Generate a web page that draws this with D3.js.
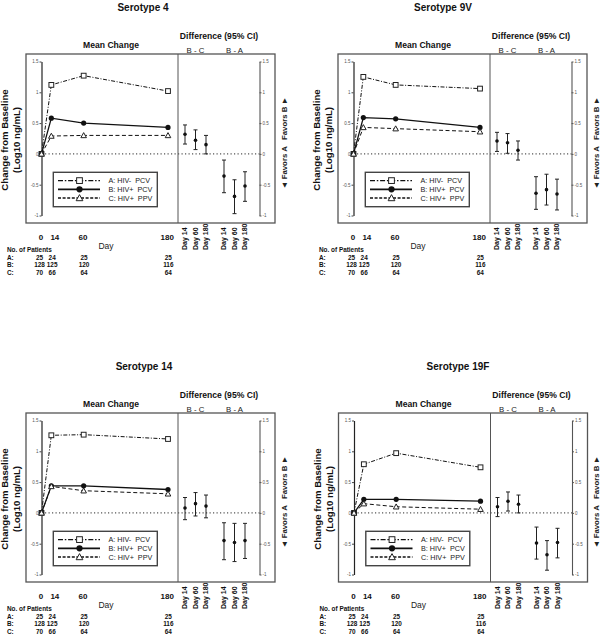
<!DOCTYPE html>
<html>
<head>
<meta charset="utf-8">
<script src="https://cdn.jsdelivr.net/npm/d3@7"></script>
<style>
  body { margin: 0; background: #fff; }
  text { font-family: "Liberation Sans", Arial, sans-serif; }
</style>
</head>
<body>
<script>
// ---------------- DATA ----------------
const days = [0, 14, 60, 180];
const diffDays = ["Day 14", "Day 60", "Day 180"];
const diffGroups = ["B - C", "B - A"];
const serotypes = ["Serotype 4", "Serotype 9V", "Serotype 14", "Serotype 19F"];
const groupLabels = ["A: HIV-  PCV", "B: HIV+  PCV", "C: HIV+  PPV"];
const yTicks = [-1, -0.5, 0, 0.5, 1, 1.5];
const patientRows = ["A:", "B:", "C:"];
const patientsA = [25, 24, 25, 25];
const patientsB = [128, 125, 120, 116];
const patientsC = [70, 66, 64, 64];

// mean change from baseline (log10 ng/mL)
const meanA_4 = [0, 1.12, 1.27, 1.02];
const meanB_4 = [0, 0.58, 0.50, 0.43];
const meanC_4 = [0, 0.29, 0.30, 0.30];
const meanA_9V = [0, 1.25, 1.12, 1.06];
const meanB_9V = [0, 0.59, 0.57, 0.43];
const meanC_9V = [0, 0.43, 0.41, 0.36];
const meanA_14 = [0, 1.26, 1.27, 1.20];
const meanB_14 = [0, 0.44, 0.44, 0.38];
const meanC_14 = [0, 0.43, 0.36, 0.31];
const meanA_19F = [0, 0.79, 0.97, 0.74];
const meanB_19F = [0, 0.22, 0.22, 0.19];
const meanC_19F = [0, 0.15, 0.10, 0.06];

// differences (estimate, lower, upper) for Day 14, 60, 180
const diffBC_est_4 = [0.32, 0.22, 0.15], diffBC_lo_4 = [0.16, 0.07, 0.00], diffBC_hi_4 = [0.47, 0.39, 0.30];
const diffBA_est_4 = [-0.36, -0.69, -0.52], diffBA_lo_4 = [-0.63, -0.97, -0.77], diffBA_hi_4 = [-0.10, -0.42, -0.29];
const diffBC_est_9V = [0.21, 0.18, 0.06], diffBC_lo_9V = [0.04, 0.01, -0.10], diffBC_hi_9V = [0.35, 0.33, 0.21];
const diffBA_est_9V = [-0.64, -0.58, -0.65], diffBA_lo_9V = [-0.90, -0.83, -0.91], diffBA_hi_9V = [-0.37, -0.33, -0.41];
const diffBC_est_14 = [0.08, 0.15, 0.11], diffBC_lo_14 = [-0.11, -0.05, -0.08], diffBC_hi_14 = [0.25, 0.33, 0.29];
const diffBA_est_14 = [-0.45, -0.48, -0.45], diffBA_lo_14 = [-0.76, -0.79, -0.74], diffBA_hi_14 = [-0.16, -0.17, -0.17];
const diffBC_est_19F = [0.10, 0.19, 0.14], diffBC_lo_19F = [-0.06, 0.03, 0.00], diffBC_hi_19F = [0.25, 0.34, 0.29];
const diffBA_est_19F = [-0.49, -0.68, -0.48], diffBA_lo_19F = [-0.75, -0.93, -0.73], diffBA_hi_19F = [-0.23, -0.45, -0.25];

// assemble per-panel
const panelData = [
  { means: [meanA_4, meanB_4, meanC_4],
    diffs: [[diffBC_est_4, diffBC_lo_4, diffBC_hi_4], [diffBA_est_4, diffBA_lo_4, diffBA_hi_4]] },
  { means: [meanA_9V, meanB_9V, meanC_9V],
    diffs: [[diffBC_est_9V, diffBC_lo_9V, diffBC_hi_9V], [diffBA_est_9V, diffBA_lo_9V, diffBA_hi_9V]] },
  { means: [meanA_14, meanB_14, meanC_14],
    diffs: [[diffBC_est_14, diffBC_lo_14, diffBC_hi_14], [diffBA_est_14, diffBA_lo_14, diffBA_hi_14]] },
  { means: [meanA_19F, meanB_19F, meanC_19F],
    diffs: [[diffBC_est_19F, diffBC_lo_19F, diffBC_hi_19F], [diffBA_est_19F, diffBA_lo_19F, diffBA_hi_19F]] }
];
const patients = [patientsA, patientsB, patientsC];

// ---------------- LAYOUT ----------------
const W = 603, H = 636;
const origins = [ {dx: 0, dy: 0, tx: 143}, {dx: 312, dy: 0, tx: 131}, {dx: 0, dy: 359, tx: 144}, {dx: 312.5, dy: 359, tx: 145.5} ];

const svg = d3.select("body").append("svg")
  .attr("width", W).attr("height", H)
  .style("background", "#fff");

const x = d3.scaleLinear().domain([0, 180]).range([41.5, 168]);
const y = d3.scaleLinear().domain([-1, 1.5]).range([215.5, 61.5]);
const gx = d3.scalePoint().domain(diffGroups).range([195.5, 234.5]);
const ix = d3.scalePoint().domain(diffDays).range([-10.5, 10.5]);

const lineStyles = [
  { dash: "4,1.6,1,1.6", width: 1, shape: "square" },
  { dash: null, width: 1.3, shape: "circle" },
  { dash: "4,2.5", width: 1, shape: "triangle" }
];

function marker(g, shape, cx, cy, big) {
  const s = big ? 1.2 : 1;
  if (shape === "square") {
    g.append("rect").attr("x", cx - 2.4 * s).attr("y", cy - 2.4 * s)
      .attr("width", 4.8 * s).attr("height", 4.8 * s)
      .attr("fill", "#fff").attr("stroke", "#222").attr("stroke-width", 1);
  } else if (shape === "circle") {
    g.append("circle").attr("cx", cx).attr("cy", cy).attr("r", 2.6 * s).attr("fill", "#111");
  } else {
    const r = 2.8 * s;
    g.append("path")
      .attr("d", `M${cx},${cy - r}L${cx + r},${cy + r * 0.8}L${cx - r},${cy + r * 0.8}Z`)
      .attr("fill", "#fff").attr("stroke", "#222").attr("stroke-width", 1);
  }
}

serotypes.forEach((name, pi) => {
  const o = origins[pi];
  const pd = panelData[pi];
  const g = svg.append("g").attr("transform", `translate(${o.dx},${o.dy})`);

  // title
  g.append("text").attr("x", o.tx).attr("y", 11).attr("text-anchor", "middle")
    .attr("font-size", 10).attr("font-weight", "bold").attr("fill", "#111").text(name);

  // headers
  g.append("text").attr("x", 111).attr("y", 48).attr("text-anchor", "middle")
    .attr("font-size", 8.6).attr("font-weight", "bold").attr("fill", "#111").text("Mean Change");
  g.append("text").attr("x", 219).attr("y", 39).attr("text-anchor", "middle")
    .attr("font-size", 8.6).attr("font-weight", "bold").attr("fill", "#111").text("Difference (95% CI)");
  diffGroups.forEach(dg => {
    g.append("text").attr("x", gx(dg)).attr("y", 52.5).attr("text-anchor", "middle")
      .attr("font-size", 7.8).attr("fill", "#222").text(dg);
  });

  // box and divider
  g.append("rect").attr("x", 26).attr("y", 54).attr("width", 249).attr("height", 169)
    .attr("fill", "none").attr("stroke", "#555").attr("stroke-width", 1.3);
  g.append("line").attr("x1", 178).attr("x2", 178).attr("y1", 54).attr("y2", 223)
    .attr("stroke", "#555").attr("stroke-width", 1);

  // y label
  const yl = g.append("g").attr("font-weight", "bold").attr("font-size", 9.6).attr("fill", "#111");
  yl.append("text").attr("transform", "translate(5,140) rotate(-90)").attr("text-anchor", "middle")
    .attr("dy", "0.35em").text("Change from Baseline");
  yl.append("text").attr("transform", "translate(17,140) rotate(-90)").attr("text-anchor", "middle")
    .attr("dy", "0.35em").text("(Log10 ng/mL)");

  // favors label
  g.append("text").attr("transform", "translate(284,143) rotate(-90)").attr("text-anchor", "middle")
    .attr("dy", "0.35em").attr("font-size", 7.8).attr("font-weight", "bold").attr("fill", "#222")
    .style("white-space", "pre").text("\u25C4 Favors A   Favors B \u25BA");

  // left axis
  const la = g.append("g").attr("transform", "translate(41.5,0)")
    .call(d3.axisLeft(y).tickValues(yTicks).tickSize(2).tickSizeOuter(0).tickFormat(d => String(d)));
  la.select(".domain").attr("stroke", "#222").attr("stroke-width", 1.2);
  la.selectAll(".tick line").attr("stroke", "#444");
  la.selectAll(".tick text").attr("font-size", 4.5).attr("fill", "#555").attr("x", -3)
    .style("font-family", "'Liberation Sans', Arial, sans-serif");

  // right axis
  const ra = g.append("g").attr("transform", "translate(259.5,0)")
    .call(d3.axisRight(y).tickValues(yTicks).tickSize(2).tickSizeOuter(0).tickFormat(d => String(d)));
  ra.select(".domain").attr("stroke", "#555").attr("stroke-width", 1.1);
  ra.selectAll(".tick line").attr("stroke", "#555");
  ra.selectAll(".tick text").attr("font-size", 4.5).attr("fill", "#555").attr("x", 3)
    .style("font-family", "'Liberation Sans', Arial, sans-serif");

  // zero dotted line
  g.append("line").attr("x1", 41.5).attr("x2", 259.5).attr("y1", y(0)).attr("y2", y(0))
    .attr("stroke", "#555").attr("stroke-width", 1.3).attr("stroke-dasharray", "1.2,2.3");

  // mean lines
  pd.means.forEach((vals, si) => {
    const st = lineStyles[si];
    const pts = days.map((d, k) => [x(d), y(vals[k])]);
    const p = g.append("path").attr("d", d3.line()(pts)).attr("fill", "none")
      .attr("stroke", "#111").attr("stroke-width", st.width);
    if (st.dash) p.attr("stroke-dasharray", st.dash);
  });
  pd.means.forEach((vals, si) => {
    days.forEach((d, k) => marker(g, lineStyles[si].shape, x(d), y(vals[k]), false));
  });

  // legend
  g.append("rect").attr("x", 53.3).attr("y", 172.3).attr("width", 104).attr("height", 34.4)
    .attr("fill", "#fff").attr("stroke", "#444").attr("stroke-width", 1.4);
  groupLabels.forEach((lab, si) => {
    const ly = 180.6 + si * 8.7;
    const st = lineStyles[si];
    const l = g.append("line").attr("x1", 58).attr("x2", 100).attr("y1", ly).attr("y2", ly)
      .attr("stroke", "#111").attr("stroke-width", si === 1 ? 1.8 : 1.4);
    if (st.dash) l.attr("stroke-dasharray", si === 0 ? "5,1.8,1.5,1.8" : "3,1.6");
    marker(g, st.shape, 79.5, ly, true);
    g.append("text").attr("x", 108.5).attr("y", ly).attr("dy", "0.35em")
      .attr("font-size", 7.2).attr("fill", "#222").style("white-space", "pre").text(lab);
  });

  // differences
  pd.diffs.forEach((triple, gi) => {
    const [est, lo, hi] = triple;
    diffDays.forEach((dd, k) => {
      const cx = gx(diffGroups[gi]) + ix(dd);
      g.append("line").attr("x1", cx).attr("x2", cx).attr("y1", y(hi[k])).attr("y2", y(lo[k]))
        .attr("stroke", "#222").attr("stroke-width", 1);
      [hi[k], lo[k]].forEach(v => {
        g.append("line").attr("x1", cx - 2).attr("x2", cx + 2).attr("y1", y(v)).attr("y2", y(v))
          .attr("stroke", "#222").attr("stroke-width", 1);
      });
      g.append("circle").attr("cx", cx).attr("cy", y(est[k])).attr("r", 1.8).attr("fill", "#111");
      g.append("text").attr("transform", `translate(${cx},250) rotate(-90)`)
        .attr("dy", "0.35em").attr("font-size", 7).attr("font-weight", "bold").attr("fill", "#111")
        .text(dd);
    });
  });

  // x tick labels
  days.forEach(d => {
    const nudge = d === 14 ? 3.5 : (d === 0 ? -0.5 : -0.7);
    g.append("text").attr("x", x(d) + nudge).attr("y", 240).attr("text-anchor", "middle")
      .attr("font-size", 8).attr("font-weight", "bold").attr("fill", "#111").text(d);
  });
  g.append("text").attr("x", 106).attr("y", 248.5).attr("text-anchor", "middle")
    .attr("font-size", 8.5).attr("fill", "#222").text("Day");

  // patients table
  g.append("text").attr("x", 7).attr("y", 251.5).attr("font-size", 6.4).attr("font-weight", "bold")
    .attr("fill", "#111").text("No. of Patients");
  patientRows.forEach((r, ri) => {
    const ry = 259.5 + ri * 7.7;
    g.append("text").attr("x", 7).attr("y", ry).attr("font-size", 6.4).attr("font-weight", "bold")
      .attr("fill", "#111").text(r);
    days.forEach((d, k) => {
      const nudge = d === 0 ? -2 : (d === 14 ? 0.8 : 0.3);
      g.append("text").attr("x", x(d) + nudge).attr("y", ry).attr("text-anchor", "middle")
        .attr("font-size", 6.4).attr("font-weight", "bold").attr("fill", "#111").text(patients[ri][k]);
    });
  });
});
</script>
</body>
</html>
